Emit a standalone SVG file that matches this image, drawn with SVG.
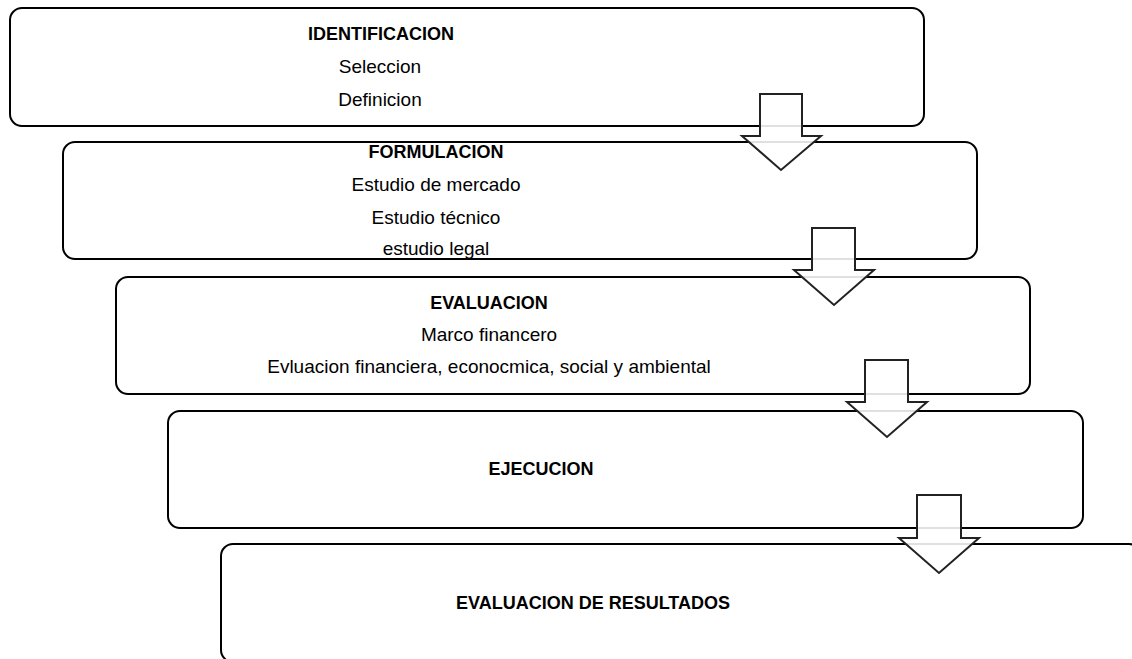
<svg xmlns="http://www.w3.org/2000/svg" width="1132" height="659" viewBox="0 0 1132 659">
<style>
.box{fill:#fff;stroke:#000;stroke-width:2}
.arr{fill:#fff;fill-opacity:0.88;stroke:#222;stroke-width:2;stroke-linejoin:miter}
text{font-family:"Liberation Sans",Arial,sans-serif;font-size:19px;fill:#000;text-anchor:middle}
.b{font-weight:bold;font-size:18px}
</style>
<rect width="1132" height="659" fill="#fff"/>
<g id="n1"><rect class="box" x="10" y="8" width="914" height="118" rx="12"/>
<text class="b" x="381" y="40">IDENTIFICACION</text>
<text x="380" y="73">Seleccion</text>
<text x="380" y="106">Definicion</text></g>
<g id="n2"><rect class="box" x="63" y="142" width="914" height="117" rx="12"/>
<text class="b" x="436" y="158">FORMULACION</text>
<text x="436" y="191">Estudio de mercado</text>
<text x="436" y="224">Estudio técnico</text>
<text x="436" y="255">estudio legal</text></g>
<g id="n3"><rect class="box" x="116" y="277" width="914" height="117" rx="12"/>
<text class="b" x="489" y="309">EVALUACION</text>
<text x="489" y="341">Marco financero</text>
<text x="489" y="373">Evluacion financiera, econocmica, social y ambiental</text></g>
<g id="n4"><rect class="box" x="168" y="411" width="915" height="117" rx="12"/>
<text class="b" x="541" y="475">EJECUCION</text></g>
<g id="n5"><rect class="box" x="221" y="544" width="920" height="118" rx="12"/>
<text class="b" x="593" y="609">EVALUACION DE RESULTADOS</text></g>
<g id="connectors">
<polygon class="arr" points="760,94 802,94 802,136 821,136 781,170 742,136 760,136"/>
<polygon class="arr" points="812,228 855,228 855,270 874,270 834,305 794,270 812,270"/>
<polygon class="arr" points="865,360 908,360 908,402 927,402 887,437 847,402 865,402"/>
<polygon class="arr" points="917,495 961,495 961,538 979,538 939,573 899,538 917,538"/>
</g>
</svg>
